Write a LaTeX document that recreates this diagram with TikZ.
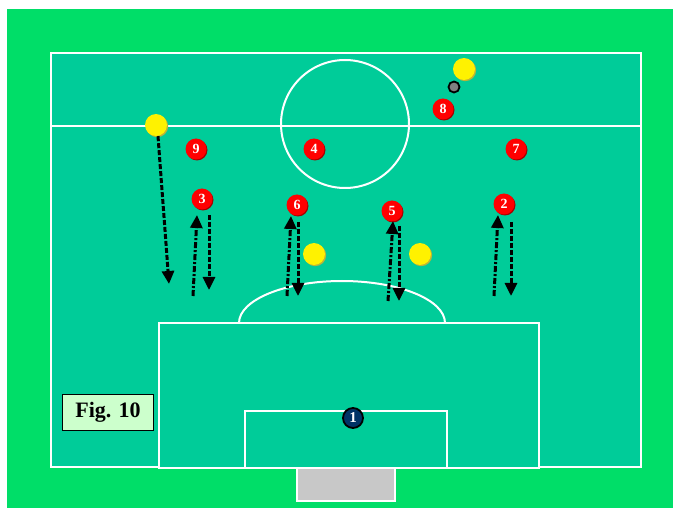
\documentclass[tikz,border=0pt]{standalone}
\usepackage{fontspec}
\setmainfont{Liberation Serif}
\usetikzlibrary{arrows.meta}
\definecolor{turf}{RGB}{0,222,104}
\definecolor{pitch}{RGB}{0,204,153}
\definecolor{keeperblue}{RGB}{0,51,102}
\definecolor{figfill}{RGB}{204,255,204}
\definecolor{goalgrey}{RGB}{200,200,200}
\tikzset{
  player/.style={circle,fill=red,minimum size=21pt,inner sep=0pt,text=white,
    font=\fontsize{14}{14}\selectfont\bfseries,
    preaction={fill=red!65!black,transform canvas={xshift=1pt,yshift=-1pt}}},
  keeper/.style={circle,fill=keeperblue,draw=black,line width=1.8pt,minimum size=20pt,
    inner sep=0pt,text=white,font=\fontsize{15}{15}\selectfont\bfseries},
  rival/.style={circle,fill=yellow,minimum size=22pt,inner sep=0pt,
    preaction={fill=yellow!70!black,transform canvas={xshift=1.2pt,yshift=-1.2pt}}},
  ballstyle/.style={circle,fill=gray,draw=black,line width=1.8pt,minimum size=11pt,inner sep=0pt},
  runup/.style={line width=3pt,dash pattern=on 6pt off 2pt on 2pt off 2pt,
    -{Triangle[length=13pt,width=12pt]}},
  rundown/.style={line width=3pt,dash pattern=on 5pt off 2pt,
    -{Triangle[length=13pt,width=12pt]}},
  lines/.style={draw=white,line width=2pt}
}
\begin{document}
\begin{tikzpicture}[x=1pt,y=-1pt]
\useasboundingbox (0,0) rectangle (673,508);
% turf and pitch markings
\fill[turf] (7,9) rectangle (673,508);
\fill[pitch,lines] (51,53) rectangle (641,467);
\draw[lines] (51,126) -- (641,126);
\draw[lines] (345,124) circle[radius=64];
\draw[lines] (239,323) arc[start angle=180,end angle=360,x radius=103,y radius=42];
\draw[lines,fill=pitch] (159,323) rectangle (539,468);
\draw[lines] (245,411) rectangle (447,468);
\draw[lines,fill=goalgrey] (297,468) rectangle (395,501);
\node[draw=black,fill=figfill,minimum width=91pt,minimum height=36pt,
  font=\fontsize{22}{22}\selectfont\bfseries] (fig) at (108,412) {Fig. 10};
% players
\node[player] (p9) at (196,149) {9};
\node[player] (p4) at (314,149) {4};
\node[player] (p7) at (516,149) {7};
\node[player] (p3) at (202,199) {3};
\node[player] (p6) at (297,205) {6};
\node[player] (p5) at (392,211) {5};
\node[player] (p2) at (504,204) {2};
\node[player] (p8) at (443,109) {8};
\node[keeper] (p1) at (353,418) {1};
% opponents and ball
\node[rival] (o1) at (156,125) {};
\node[rival] (o2) at (464,69) {};
\node[rival] (o3) at (314,254) {};
\node[rival] (o4) at (420,254) {};
\node[ballstyle] (ball) at (454,87) {};
% runs
\coordinate (o1e) at (169,284);
\coordinate (p3a) at (193,296);  \coordinate (p3b) at (197,215);
\coordinate (p3c) at (209,215);  \coordinate (p3d) at (209,290);
\coordinate (p6a) at (287,296);  \coordinate (p6b) at (291,216);
\coordinate (p6c) at (298,222);  \coordinate (p6d) at (298,296);
\coordinate (p5a) at (388,301);  \coordinate (p5b) at (393,221);
\coordinate (p5c) at (399,226);  \coordinate (p5d) at (399,301);
\coordinate (p2a) at (494,296);  \coordinate (p2b) at (498,215);
\coordinate (p2c) at (511,222);  \coordinate (p2d) at (511,296);
\draw[rundown] (o1.south) ++(2,0) coordinate (o1s) (o1s) -- (o1e);
\draw[runup] (p3a) -- (p3b);
\draw[rundown] (p3c) -- (p3d);
\draw[runup] (p6a) -- (p6b);
\draw[rundown] (p6c) -- (p6d);
\draw[runup] (p5a) -- (p5b);
\draw[rundown] (p5c) -- (p5d);
\draw[runup] (p2a) -- (p2b);
\draw[rundown] (p2c) -- (p2d);
\end{tikzpicture}
\end{document}
